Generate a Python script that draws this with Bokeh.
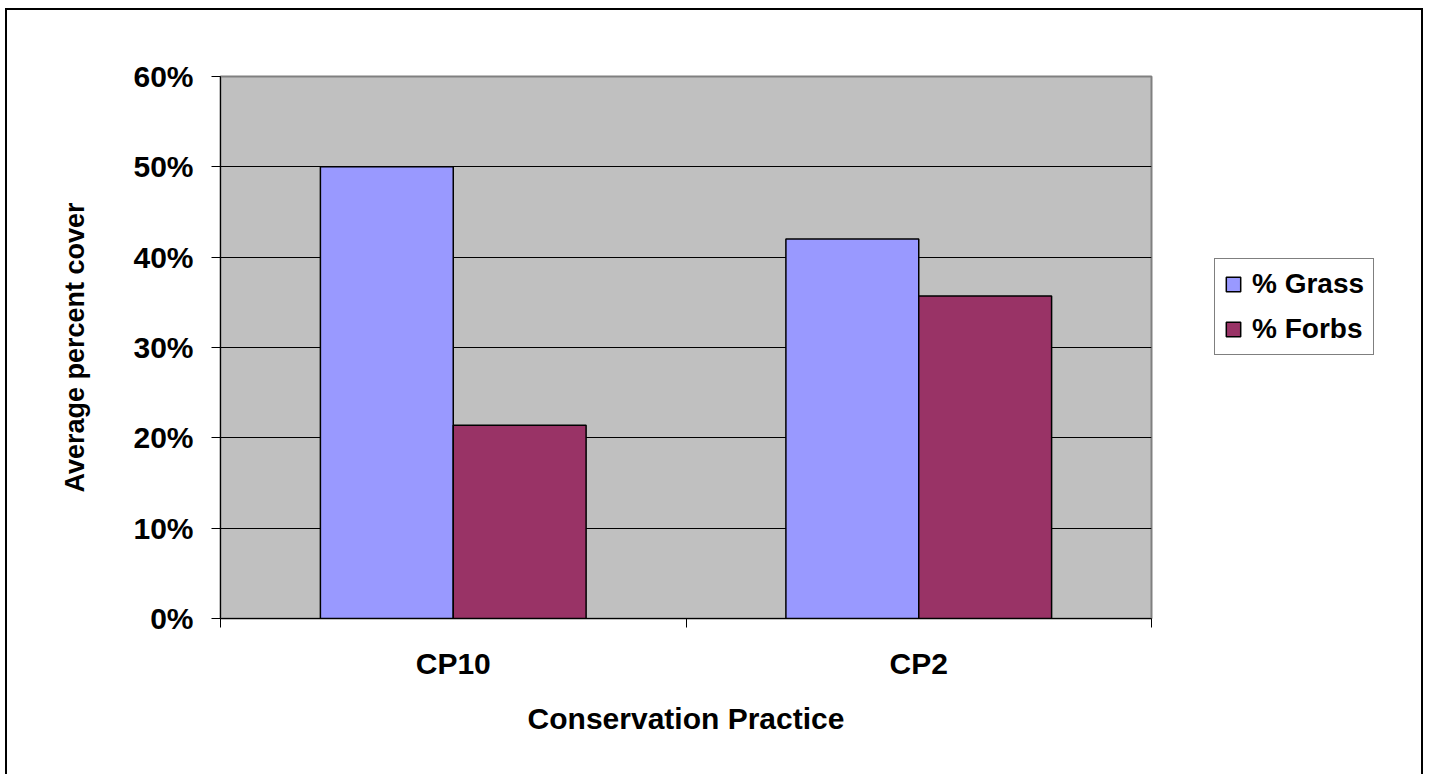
from bokeh.plotting import figure
from bokeh.layouts import row
from bokeh.models import (FactorRange, LinearAxis, FixedTicker, NumeralTickFormatter,
                          Legend, LegendItem, ColumnDataSource, Range1d, Grid)
from bokeh.transform import dodge
from bokeh.embed import file_html
from bokeh.resources import INLINE

# ---- data ----
categories = ["CP10", "CP2"]
grass = [0.500, 0.420]
forbs = [0.214, 0.357]
series_names = ["% Grass", "% Forbs"]
y_ticks = [0.0, 0.1, 0.2, 0.3, 0.4, 0.5, 0.6]
colors = ["#9999FF", "#993366"]

FONT = "Liberation Sans"

src = ColumnDataSource(dict(cat=categories, grass=grass, forbs=forbs))

p = figure(x_range=FactorRange(*categories), y_range=Range1d(0, 0.6),
           width=1209, height=766, output_backend="svg", toolbar_location=None,
           x_axis_location=None, y_axis_location=None,
           min_border_left=215, min_border_right=63, min_border_top=68,
           min_border_bottom=156)
p.background_fill_color = "#C0C0C0"
p.border_fill_color = None
p.outline_line_color = "#808080"
p.outline_line_width = 2
for g in p.grid:
    g.visible = False

# y axis
yaxis = LinearAxis(ticker=FixedTicker(ticks=y_ticks),
                   formatter=NumeralTickFormatter(format="0%"),
                   axis_label="Average percent cover")
yaxis.axis_line_color = "black"
yaxis.major_tick_line_color = "black"
yaxis.major_tick_out = 9
yaxis.major_tick_in = 0
yaxis.minor_tick_line_color = None
yaxis.major_label_standoff = 18
yaxis.axis_label_standoff = 40
yaxis.major_label_text_font = FONT
yaxis.major_label_text_font_style = "bold"
yaxis.major_label_text_font_size = "30px"
yaxis.major_label_text_color = "black"
yaxis.axis_label_text_font = FONT
yaxis.axis_label_text_font_style = "bold"
yaxis.axis_label_text_font_size = "27px"
yaxis.axis_label_text_color = "black"
p.add_layout(yaxis, "left")

p.add_layout(Grid(dimension=1, ticker=yaxis.ticker, grid_line_color="black",
                  grid_line_width=1))

# x axis: labels at category centres, ticks at category boundaries
centres = [i + 0.5 for i in range(len(categories))]
bounds = [float(i) for i in range(len(categories) + 1)]
xaxis = LinearAxis(ticker=FixedTicker(ticks=centres, minor_ticks=bounds),
                   major_label_overrides={c: n for c, n in zip(centres, categories)},
                   axis_label="Conservation Practice")
xaxis.axis_line_color = "black"
xaxis.major_tick_line_color = None
xaxis.major_tick_out = 0
xaxis.major_tick_in = 0
xaxis.minor_tick_line_color = "black"
xaxis.minor_tick_out = 9
xaxis.minor_tick_in = 0
xaxis.major_label_standoff = 19
xaxis.axis_label_standoff = 19
xaxis.major_label_text_font = FONT
xaxis.major_label_text_font_style = "bold"
xaxis.major_label_text_font_size = "30px"
xaxis.major_label_text_color = "black"
xaxis.axis_label_text_font = FONT
xaxis.axis_label_text_font_style = "bold"
xaxis.axis_label_text_font_size = "30px"
xaxis.axis_label_text_color = "black"
p.add_layout(xaxis, "below")

# bars
p.vbar(x=dodge("cat", -0.1427, range=p.x_range), top="grass", width=0.2854,
       source=src, fill_color=colors[0], line_color="black", line_width=1.5)
p.vbar(x=dodge("cat", 0.1427, range=p.x_range), top="forbs", width=0.2854,
       source=src, fill_color=colors[1], line_color="black", line_width=1.5)

# legend panel (separate figure to the right of the plot)
pl = figure(x_range=Range1d(0, 1), y_range=Range1d(0, 1), width=209, height=766,
            output_backend="svg", toolbar_location=None,
            x_axis_location=None, y_axis_location=None,
            min_border_left=0, min_border_right=0, min_border_top=0,
            min_border_bottom=0)
pl.outline_line_color = None
pl.background_fill_color = None
pl.border_fill_color = None
for g in pl.grid:
    g.visible = False
# legend swatch renderers: one bar each, kept outside the visible range
lr = [pl.vbar(x=[5], top=[1], width=0.1, fill_color=c, line_color="black",
              line_width=1.5) for c in colors]

legend = Legend(items=[LegendItem(label=n, renderers=[r])
                       for n, r in zip(series_names, lr)],
                location=(0, 263))
legend.label_text_font = FONT
legend.label_text_font_style = "bold"
legend.label_text_font_size = "28px"
legend.label_text_color = "black"
legend.glyph_width = 18
legend.glyph_height = 18
legend.label_standoff = 10
legend.padding = 9
legend.spacing = 13
legend.margin = 0
legend.border_line_color = "black"
legend.border_line_width = 1
legend.background_fill_color = "white"
legend.background_fill_alpha = 1
pl.add_layout(legend)

layout = row(p, pl, spacing=0,
             styles={"margin-left": "5px", "margin-top": "8px",
                     "background-color": "white",
                     "box-shadow": "inset 2px 2px 0 0 #000, inset -2px 0 0 0 #000"})

open("out.html", "w").write(file_html(layout, INLINE))
